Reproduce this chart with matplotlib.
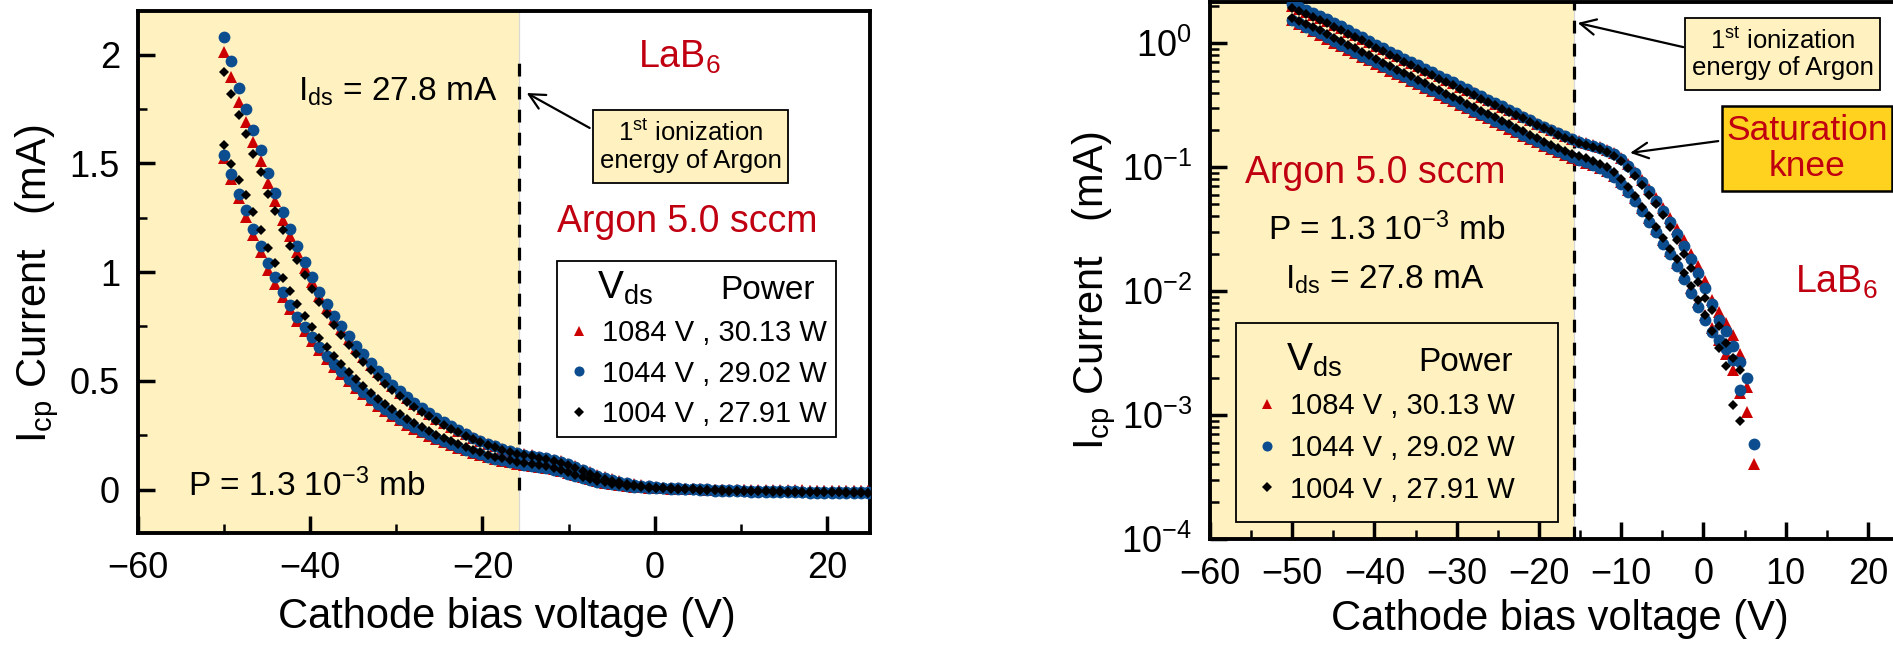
import numpy as np
import matplotlib
matplotlib.use("Agg")
import matplotlib.pyplot as plt
from matplotlib.patches import Rectangle
from matplotlib.ticker import MultipleLocator, LogLocator, NullFormatter, FuncFormatter

plt.rcParams['font.family'] = ['Liberation Sans', 'DejaVu Sans']
plt.rcParams['mathtext.fontset'] = 'custom'
plt.rcParams['mathtext.rm'] = 'Liberation Sans'
plt.rcParams['mathtext.it'] = 'Liberation Sans:italic'
plt.rcParams['mathtext.bf'] = 'Liberation Sans:bold'
plt.rcParams['axes.unicode_minus'] = True

# ---------------- data ----------------
VOLTAGE = [-50.00, -49.15, -48.30, -47.45, -46.60, -45.75, -44.90, -44.05, -43.20, -42.35,
           -41.50, -40.65, -39.80, -38.95, -38.10, -37.25, -36.40, -35.55, -34.70, -33.85,
           -33.00, -32.15, -31.30, -30.45, -29.60, -28.75, -27.90, -27.05, -26.20, -25.35,
           -24.50, -23.65, -22.80, -21.95, -21.10, -20.25, -19.40, -18.55, -17.70, -16.85,
           -16.00, -15.15, -14.30, -13.45, -12.60, -11.75, -10.90, -10.05, -9.20, -8.35,
           -7.50, -6.65, -5.80, -4.95, -4.10, -3.25, -2.40, -1.55, -0.70, 0.15,
           1.00, 1.85, 2.70, 3.55, 4.40, 5.25, 6.10, 6.95, 7.80, 8.65,
           9.50, 10.35, 11.20, 12.05, 12.90, 13.75, 14.60, 15.45, 16.30, 17.15,
           18.00, 18.85, 19.70, 20.55, 21.40, 22.25, 23.10, 23.95, 24.80]

# 1084 V , 30.13 W  (two sweeps)
I_1084_A = [2.01, 1.895, 1.78, 1.69, 1.60, 1.51, 1.41, 1.325, 1.24, 1.165, 1.09, 1.02, 0.955, 0.89, 0.835, 0.785, 0.738,
            0.694, 0.651, 0.611, 0.574, 0.539, 0.506, 0.475, 0.446, 0.419, 0.393, 0.370, 0.347, 0.326, 0.306, 0.287, 0.270,
            0.253, 0.238, 0.224, 0.210, 0.198, 0.187, 0.178, 0.170,
            0.163, 0.157, 0.151, 0.145, 0.138, 0.130, 0.119, 0.106, 0.092, 0.079, 0.067, 0.056, 0.047, 0.039, 0.032, 0.026,
            0.020, 0.016, 0.012, 0.0085, 0.0068, 0.0055, 0.0044, 0.0031, 0.0017, 0.0004,
            -0.0005, -0.001, -0.001, -0.0015, -0.002, -0.002, -0.0025, -0.003, -0.003, -0.0035, -0.004, -0.004, -0.0045,
            -0.005, -0.005, -0.0055, -0.006, -0.006, -0.0065, -0.007, -0.007, -0.0075]
I_1084_B = [1.525, 1.43, 1.34, 1.255, 1.17, 1.09, 1.01, 0.945, 0.885, 0.828, 0.775, 0.727, 0.683, 0.640, 0.600, 0.563, 0.530,
            0.497, 0.466, 0.437, 0.410, 0.385, 0.361, 0.339, 0.318, 0.298, 0.280, 0.263, 0.247, 0.232, 0.218, 0.205, 0.192,
            0.180, 0.169, 0.159, 0.149, 0.140, 0.132, 0.125, 0.119,
            0.114, 0.109, 0.104, 0.099, 0.093, 0.085, 0.076, 0.066, 0.056, 0.047, 0.039, 0.032, 0.026, 0.021, 0.017, 0.0135,
            0.0105, 0.0082, 0.0064, 0.0050, 0.0040, 0.0031, 0.0023, 0.0015, 0.00105, -0.0005,
            -0.002, -0.003, -0.003, -0.004, -0.004, -0.005, -0.005, -0.005, -0.006, -0.006, -0.006, -0.007, -0.007,
            -0.007, -0.008, -0.008, -0.008, -0.008, -0.009, -0.009, -0.009, -0.009]

# 1044 V , 29.02 W
I_1044_A = [2.08, 1.97, 1.845, 1.75, 1.653, 1.562, 1.455, 1.364, 1.275, 1.196, 1.12, 1.045, 0.976, 0.91, 0.854, 0.80, 0.752,
            0.706, 0.662, 0.621, 0.583, 0.547, 0.513, 0.482, 0.452, 0.424, 0.398, 0.374, 0.351, 0.329, 0.309, 0.290, 0.272,
            0.255, 0.239, 0.225, 0.211, 0.198, 0.187, 0.177, 0.168,
            0.161, 0.155, 0.149, 0.143, 0.136, 0.127, 0.116, 0.103, 0.089, 0.076, 0.064, 0.053, 0.044, 0.036, 0.029, 0.023,
            0.018, 0.014, 0.0105, 0.0078, 0.0058, 0.0048, 0.0036, 0.0027, 0.0020, 0.00058,
            -0.001, -0.002, -0.003, -0.004, -0.005, -0.006, -0.006, -0.007, -0.008, -0.008, -0.009, -0.009, -0.010,
            -0.010, -0.011, -0.011, -0.012, -0.012, -0.012, -0.013, -0.013, -0.013]
I_1044_B = [1.536, 1.449, 1.36, 1.285, 1.20, 1.12, 1.04, 0.975, 0.91, 0.85, 0.795, 0.745, 0.70, 0.655, 0.615, 0.577, 0.543,
            0.508, 0.476, 0.447, 0.419, 0.393, 0.368, 0.347, 0.325, 0.305, 0.286, 0.269, 0.253, 0.237, 0.222, 0.209, 0.196,
            0.183, 0.172, 0.162, 0.151, 0.142, 0.134, 0.127, 0.120,
            0.115, 0.110, 0.105, 0.099, 0.092, 0.083, 0.073, 0.063, 0.053, 0.044, 0.036, 0.030, 0.024, 0.020, 0.016, 0.0125,
            0.0097, 0.0075, 0.0058, 0.0047, 0.0040, 0.0034, 0.0028, 0.0016, -0.0005, -0.001,
            -0.005, -0.006, -0.007, -0.008, -0.009, -0.010, -0.010, -0.011, -0.011, -0.012, -0.012, -0.013, -0.013,
            -0.014, -0.014, -0.014, -0.015, -0.015, -0.015, -0.016, -0.016, -0.016]

# 1004 V , 27.91 W
I_1004_A = [1.92, 1.82, 1.72, 1.635, 1.545, 1.46, 1.36, 1.28, 1.195, 1.12, 1.056, 0.985, 0.92, 0.86, 0.805, 0.755, 0.71,
            0.666, 0.625, 0.587, 0.551, 0.517, 0.486, 0.457, 0.429, 0.404, 0.380, 0.357, 0.336, 0.316, 0.297, 0.280, 0.263,
            0.247, 0.233, 0.219, 0.206, 0.194, 0.183, 0.173, 0.165,
            0.158, 0.152, 0.146, 0.140, 0.133, 0.124, 0.112, 0.099, 0.085, 0.072, 0.060, 0.050, 0.041, 0.033, 0.026, 0.020,
            0.0155, 0.0118, 0.0088, 0.0070, 0.0052, 0.0038, 0.0029, 0.0023, -0.0005, -0.001,
            -0.003, -0.004, -0.005, -0.006, -0.007, -0.007, -0.008, -0.008, -0.009, -0.009, -0.010, -0.010, -0.011,
            -0.011, -0.011, -0.012, -0.012, -0.012, -0.013, -0.013, -0.013, -0.014]
I_1004_B = [1.586, 1.498, 1.422, 1.353, 1.277, 1.193, 1.110, 1.040, 0.973, 0.912, 0.852, 0.798, 0.748, 0.698, 0.655, 0.613, 0.576,
            0.540, 0.506, 0.475, 0.446, 0.418, 0.392, 0.369, 0.346, 0.324, 0.304, 0.286, 0.269, 0.252, 0.236, 0.222, 0.208,
            0.195, 0.183, 0.172, 0.161, 0.151, 0.143, 0.135, 0.128,
            0.123, 0.118, 0.113, 0.107, 0.100, 0.091, 0.080, 0.069, 0.058, 0.048, 0.040, 0.033, 0.027, 0.022, 0.018, 0.014,
            0.011, 0.0085, 0.0064, 0.0048, 0.0035, 0.0025, 0.0012, 0.0009, -0.001, -0.002,
            -0.004, -0.005, -0.006, -0.007, -0.008, -0.008, -0.009, -0.009, -0.010, -0.010, -0.011, -0.011, -0.012,
            -0.012, -0.012, -0.013, -0.013, -0.013, -0.014, -0.014, -0.014, -0.015]

LEGEND_LABELS = ["1084 V , 30.13 W", "1044 V , 29.02 W", "1004 V , 27.91 W"]
ION_ENERGY = -15.76          # 1st ionization energy of argon (eV)
X_LIM = (-60, 25)
Y_LIM_LIN = (-0.2, 2.2)
Y_LIM_LOG = (1e-4, 2.15)

# ---------------- style ----------------
SHADE = '#fff2c0'
RED = '#cc0000'
BLUE = '#0b4d8f'
BLACK = '#000000'
TXT_RED = '#c00010'
GOLD = '#ffd21f'

SERIES = [
    (I_1084_A, I_1084_B, '^', RED, 9.0, LEGEND_LABELS[0]),
    (I_1044_A, I_1044_B, 'o', BLUE, 8.5, LEGEND_LABELS[1]),
    (I_1004_A, I_1004_B, 'D', BLACK, 5.6, LEGEND_LABELS[2]),
]

fig = plt.figure(figsize=(18.93, 6.46), dpi=100)
axL = fig.add_axes([0.0729, 0.1749, 0.3867, 0.8080])
axR = fig.add_axes([0.6392, 0.1656, 0.3693, 0.8313])


def minus_fmt(v, pos):
    return f"{v:g}".replace('-', '\u2212')


def draw_series(ax, log):
    handles = []
    for up, down, m, c, ms, lab in SERIES:
        for k, arr in enumerate((up, down)):
            y = np.asarray(arr, dtype=float)
            if log:
                y = np.where(y > 0, y, np.nan)
            h, = ax.plot(VOLTAGE, y, ls='none', marker=m, color=c, ms=ms,
                         mew=0, zorder=3)
            if k == 0:
                handles.append(h)
    return handles


def style_axes(ax):
    for s in ax.spines.values():
        s.set_linewidth(2.8)
    ax.tick_params(which='major', direction='in', length=12, width=2.5,
                   labelsize=26, pad=13, top=False, right=False)
    ax.tick_params(which='minor', direction='in', length=6.5, width=1.8,
                   top=False, right=False)


def note_box(ax, x0, y0, x1, y1, text, fc, lw, **kw):
    ax.add_patch(Rectangle((x0, y0), x1 - x0, y1 - y0, transform=ax.transAxes,
                           fc=fc, ec='k', lw=lw, zorder=5, clip_on=False))
    ax.text((x0 + x1) / 2, (y0 + y1) / 2, text, transform=ax.transAxes,
            ha='center', va='center', multialignment='center', zorder=6, **kw)


def arrow(ax, head, tail):
    ax.annotate('', xy=head, xytext=tail, xycoords='axes fraction',
                arrowprops=dict(arrowstyle='->', lw=1.6, color='k', mutation_scale=28,
                                shrinkA=0, shrinkB=0), zorder=6)


def make_legend(ax, handles, anchor, fc, title, power_xy, pad, spacing):
    leg = ax.legend(handles, LEGEND_LABELS, loc='upper left', bbox_to_anchor=anchor,
                    mode='expand', borderaxespad=0, fontsize=21,
                    title=title, title_fontsize=28, alignment='left',
                    frameon=True, fancybox=False, edgecolor='k', facecolor=fc,
                    framealpha=1, handlelength=0.9, handletextpad=0.35,
                    labelspacing=spacing, borderpad=pad, markerscale=0.85)
    leg.get_frame().set_linewidth(1.3)
    leg.set_zorder(7)
    ax.text(power_xy[0], power_xy[1], "Power", fontsize=24, ha='left', va='baseline',
            transform=ax.transAxes, zorder=8)
    return leg


# ---------------- left panel (linear) ----------------
axL.axvspan(X_LIM[0], ION_ENERGY, color=SHADE, lw=0, zorder=0)
axL.axvline(ION_ENERGY, color='#d8d8d8', lw=0.9, zorder=0.5)
axL.vlines(ION_ENERGY, 0, 2.0, colors='k', linestyles=[(0, (4, 3.2))], lw=2.3, zorder=2)
hL = draw_series(axL, log=False)
axL.set_xlim(*X_LIM)
axL.set_ylim(*Y_LIM_LIN)
axL.xaxis.set_major_locator(MultipleLocator(20))
axL.xaxis.set_minor_locator(MultipleLocator(10))
axL.yaxis.set_major_locator(MultipleLocator(0.5))
axL.yaxis.set_minor_locator(MultipleLocator(0.25))
axL.xaxis.set_major_formatter(FuncFormatter(minus_fmt))
axL.yaxis.set_major_formatter(FuncFormatter(minus_fmt))
style_axes(axL)

axL.set_xlabel("Cathode bias voltage (V)", fontsize=30, va='baseline')
axL.xaxis.set_label_coords(0.504, -0.182)
axL.set_ylabel(r"$\mathregular{I_{cp}}$ Current   (mA)", fontsize=30, va='baseline')
axL.yaxis.set_label_coords(-0.126, 0.477)

axL.text(0.219, 0.828, r"$\mathregular{I_{ds}}$ = 27.8 mA", fontsize=24,
         ha='left', va='baseline', transform=axL.transAxes)
axL.text(0.683, 0.891, r"$\mathregular{LaB_6}$", fontsize=27, color=TXT_RED,
         ha='left', va='baseline', transform=axL.transAxes)
note_box(axL, 0.6216, 0.6705, 0.888, 0.8103,
         r"$\mathregular{1^{st}}$ ionization" + "\nenergy of Argon",
         SHADE, 1.3, fontsize=18.5, linespacing=1.15)
arrow(axL, (0.531, 0.843), (0.617, 0.776))
axL.text(0.572, 0.577, "Argon 5.0 sccm", fontsize=27, color=TXT_RED,
         ha='left', va='baseline', transform=axL.transAxes)
axL.text(0.068, 0.071, r"P = 1.3 $\mathregular{10^{-3}}$ mb", fontsize=24,
         ha='left', va='baseline', transform=axL.transAxes)

make_legend(axL, hL, (0.572, 0.0, 0.381, 0.521), 'white',
            "   " + r"$\mathregular{V_{ds}}$", (0.795, 0.448), 0.3, 0.42)

# ---------------- right panel (log) ----------------
axR.axvspan(X_LIM[0], ION_ENERGY, color=SHADE, lw=0, zorder=0)
axR.axvline(ION_ENERGY, color='#d8d8d8', lw=0.9, zorder=0.5)
axR.axvline(ION_ENERGY, color='k', ls=(0, (4, 3.2)), lw=2.3, zorder=2)
hR = draw_series(axR, log=True)
axR.set_yscale('log')
axR.set_xlim(*X_LIM)
axR.set_ylim(*Y_LIM_LOG)
axR.xaxis.set_major_locator(MultipleLocator(10))
axR.xaxis.set_minor_locator(MultipleLocator(5))
axR.xaxis.set_major_formatter(FuncFormatter(minus_fmt))
axR.yaxis.set_major_locator(LogLocator(base=10, numticks=10))
axR.yaxis.set_minor_locator(LogLocator(base=10, subs=np.arange(2, 10), numticks=10))
axR.yaxis.set_minor_formatter(NullFormatter())
style_axes(axR)

axR.set_xlabel("Cathode bias voltage (V)", fontsize=30, va='baseline')
axR.xaxis.set_label_coords(0.50, -0.169)
axR.set_ylabel(r"$\mathregular{I_{cp}}$ Current   (mA)", fontsize=30, va='baseline')
axR.yaxis.set_label_coords(-0.153, 0.462)

axR.text(0.050, 0.663, "Argon 5.0 sccm", fontsize=27, color=TXT_RED,
         ha='left', va='baseline', transform=axR.transAxes)
axR.text(0.083, 0.557, r"P = 1.3 $\mathregular{10^{-3}}$ mb", fontsize=24,
         ha='left', va='baseline', transform=axR.transAxes)
axR.text(0.107, 0.467, r"$\mathregular{I_{ds}}$ = 27.8 mA", fontsize=24,
         ha='left', va='baseline', transform=axR.transAxes)
axR.text(0.837, 0.458, r"$\mathregular{LaB_6}$", fontsize=27, color=TXT_RED,
         ha='left', va='baseline', transform=axR.transAxes)
note_box(axR, 0.6795, 0.8361, 0.9585, 0.9702,
         r"$\mathregular{1^{st}}$ ionization" + "\nenergy of Argon",
         SHADE, 1.3, fontsize=18.5, linespacing=1.15)
arrow(axR, (0.526, 0.961), (0.677, 0.916))
note_box(axR, 0.7325, 0.648, 0.9757, 0.8063, "Saturation\nknee",
         GOLD, 1.8, fontsize=25.5, color=TXT_RED, linespacing=1.15)
arrow(axR, (0.601, 0.719), (0.727, 0.741))

make_legend(axR, hR, (0.037, 0.0, 0.461, 0.402), SHADE,
            "   " + r"$\mathregular{V_{ds}}$", (0.2976, 0.313), 0.62, 0.47)

fig.savefig("out.png", dpi=100)
